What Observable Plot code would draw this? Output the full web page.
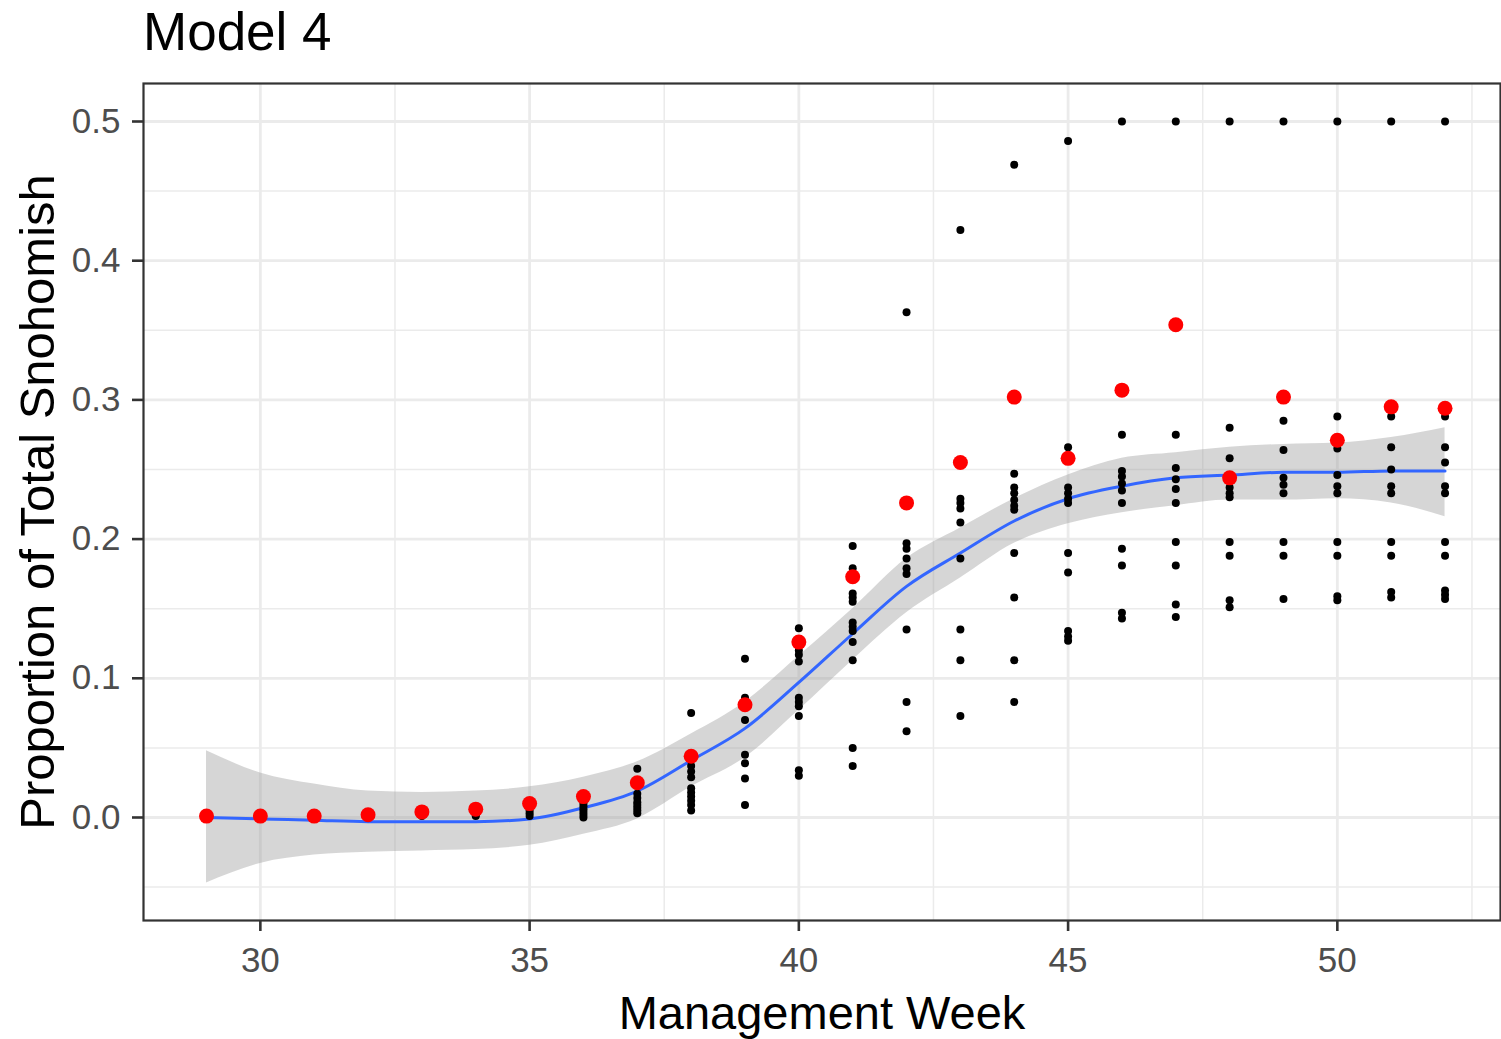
<!DOCTYPE html>
<html>
<head>
<meta charset="utf-8">
<script src="https://cdn.jsdelivr.net/npm/d3@7"></script>
<script src="https://cdn.jsdelivr.net/npm/@observablehq/plot@0.6"></script>
<style>
  html, body { margin: 0; padding: 0; background: #fff; }
  #title {
    height: 70px; box-sizing: border-box; padding: 2px 0 0 143px;
    font: 53px/60px "Liberation Sans", Arial, sans-serif; color: #000;
  }
  #chart svg { display: block; }
</style>
</head>
<body>
<div id="title">Model 4</div>
<div id="chart"></div>
<script>
// Management weeks covered by the run
const weeks = [29, 30, 31, 32, 33, 34, 35, 36, 37, 38, 39, 40, 41, 42, 43, 44, 45, 46, 47, 48, 49, 50, 51, 52];

// Weekly proportions from each year (black points), one list per week
const yearlyProps = [
  [0.000],
  [0.000],
  [0.000],
  [0.000, 0.001],
  [0.001, 0.002],
  [0.001, 0.002, 0.004],
  [0.001, 0.003, 0.005],
  [0.000, 0.002, 0.004, 0.006, 0.008, 0.010, 0.012],
  [0.035, 0.026, 0.017, 0.014, 0.011, 0.009, 0.007, 0.005, 0.003],
  [0.075, 0.037, 0.033, 0.029, 0.021, 0.018, 0.015, 0.012, 0.009, 0.005],
  [0.114, 0.086, 0.083, 0.070, 0.045, 0.039, 0.028, 0.009],
  [0.136, 0.120, 0.117, 0.112, 0.086, 0.083, 0.080, 0.073, 0.034, 0.030],
  [0.195, 0.179, 0.161, 0.158, 0.155, 0.140, 0.137, 0.134, 0.126, 0.113, 0.050, 0.037],
  [0.363, 0.197, 0.193, 0.186, 0.179, 0.175, 0.135, 0.083, 0.062],
  [0.422, 0.229, 0.226, 0.222, 0.212, 0.186, 0.135, 0.113, 0.073],
  [0.469, 0.247, 0.237, 0.233, 0.228, 0.224, 0.221, 0.190, 0.158, 0.113, 0.083],
  [0.486, 0.266, 0.237, 0.233, 0.229, 0.226, 0.190, 0.176, 0.134, 0.130, 0.127],
  [0.500, 0.275, 0.249, 0.245, 0.240, 0.235, 0.226, 0.193, 0.181, 0.147, 0.143],
  [0.500, 0.275, 0.251, 0.243, 0.236, 0.226, 0.198, 0.181, 0.153, 0.144],
  [0.500, 0.280, 0.258, 0.237, 0.233, 0.230, 0.198, 0.188, 0.156, 0.151],
  [0.500, 0.285, 0.264, 0.244, 0.239, 0.233, 0.198, 0.188, 0.157],
  [0.500, 0.288, 0.265, 0.246, 0.238, 0.233, 0.198, 0.188, 0.159, 0.156],
  [0.500, 0.288, 0.266, 0.250, 0.238, 0.233, 0.198, 0.188, 0.162, 0.158],
  [0.500, 0.288, 0.266, 0.255, 0.238, 0.233, 0.198, 0.188, 0.163, 0.160, 0.157]
];

// Proportion for the focal year (red points)
const focalProps = [0.001, 0.001, 0.001, 0.002, 0.004, 0.006, 0.010, 0.015, 0.025, 0.044,
  0.081, 0.126, 0.173, 0.226, 0.255, 0.302, 0.258, 0.307, 0.354, 0.244, 0.302, 0.271, 0.295, 0.294];

// Smoothed fit with its confidence band
const fitProps = [0.000, -0.001, -0.002, -0.003, -0.003, -0.003, -0.001, 0.007, 0.019, 0.041,
  0.064, 0.097, 0.132, 0.166, 0.190, 0.213, 0.229, 0.238, 0.244, 0.246, 0.248, 0.248, 0.249, 0.249];
const fitLow = [-0.047, -0.033, -0.027, -0.025, -0.024, -0.023, -0.020, -0.012, -0.001, 0.022,
  0.043, 0.077, 0.113, 0.147, 0.172, 0.197, 0.211, 0.219, 0.224, 0.228, 0.228, 0.229, 0.226, 0.216];
const fitHigh = [0.048, 0.032, 0.024, 0.019, 0.018, 0.019, 0.022, 0.029, 0.040, 0.060,
  0.083, 0.116, 0.150, 0.186, 0.208, 0.229, 0.246, 0.258, 0.262, 0.266, 0.268, 0.269, 0.273, 0.280];

// Axis ticks and grid
const xTicks = [30, 35, 40, 45, 50];
const xMinor = [32.5, 37.5, 42.5, 47.5, 52.5];
const yTicks = [0.0, 0.1, 0.2, 0.3, 0.4, 0.5];
const yMinor = [-0.05, 0.05, 0.15, 0.25, 0.35, 0.45];

const obsRows = weeks.flatMap((w, i) => yearlyProps[i].map(p => ({week: w, prop: p})));
const focalRows = weeks.map((w, i) => ({week: w, prop: focalProps[i]}));
const fitRows = weeks.map((w, i) => ({week: w, fit: fitProps[i], low: fitLow[i], high: fitHigh[i]}));

const font = "'Liberation Sans', Arial, sans-serif";

const chart = Plot.plot({
  width: 1501,
  height: 969,
  marginTop: 13,
  marginBottom: 119,
  marginLeft: 143,
  marginRight: 1,
  style: {fontFamily: font, background: "#fff", overflow: "visible"},
  x: {domain: [27.83, 53.03]},
  y: {domain: [-0.074, 0.5273]},
  marks: [
    Plot.gridX(xMinor, {stroke: "#EBEBEB", strokeOpacity: 1, strokeWidth: 1.5}),
    Plot.gridY(yMinor, {stroke: "#EBEBEB", strokeOpacity: 1, strokeWidth: 1.5}),
    Plot.gridX(xTicks, {stroke: "#EBEBEB", strokeOpacity: 1, strokeWidth: 2.8}),
    Plot.gridY(yTicks, {stroke: "#EBEBEB", strokeOpacity: 1, strokeWidth: 2.8}),
    Plot.areaY(fitRows, {x: "week", y1: "low", y2: "high", fill: "#999999", fillOpacity: 0.4, curve: "monotone-x"}),
    Plot.line(fitRows, {x: "week", y: "fit", stroke: "#3366FF", strokeWidth: 3, curve: "monotone-x"}),
    Plot.dot(obsRows, {x: "week", y: "prop", r: 4, fill: "#000"}),
    Plot.dot(focalRows, {x: "week", y: "prop", r: 7.5, fill: "#FF0000"}),
    Plot.frame({stroke: "#333", strokeWidth: 2.2}),
    Plot.axisX(xTicks, {
      label: null, tickSize: 11, tickPadding: 16, fontSize: 35,
      stroke: "#333", strokeWidth: 2.6, fill: "#4D4D4D"
    }),
    Plot.axisY(yTicks, {
      label: null, tickSize: 11, tickPadding: 12, fontSize: 35,
      tickFormat: d3.format(".1f"),
      stroke: "#333", strokeWidth: 2.6, fill: "#4D4D4D"
    }),
    Plot.text(["Management Week"], {
      text: d => d, frameAnchor: "bottom", dy: 93, fontSize: 47, fill: "#000",
      textAnchor: "middle", lineAnchor: "middle"
    }),
    Plot.text(["Proportion of Total Snohomish"], {
      text: d => d, frameAnchor: "left", dx: -105, rotate: -90, fontSize: 49, fill: "#000",
      textAnchor: "middle", lineAnchor: "middle"
    })
  ]
});

document.getElementById("chart").appendChild(chart);
</script>
</body>
</html>
